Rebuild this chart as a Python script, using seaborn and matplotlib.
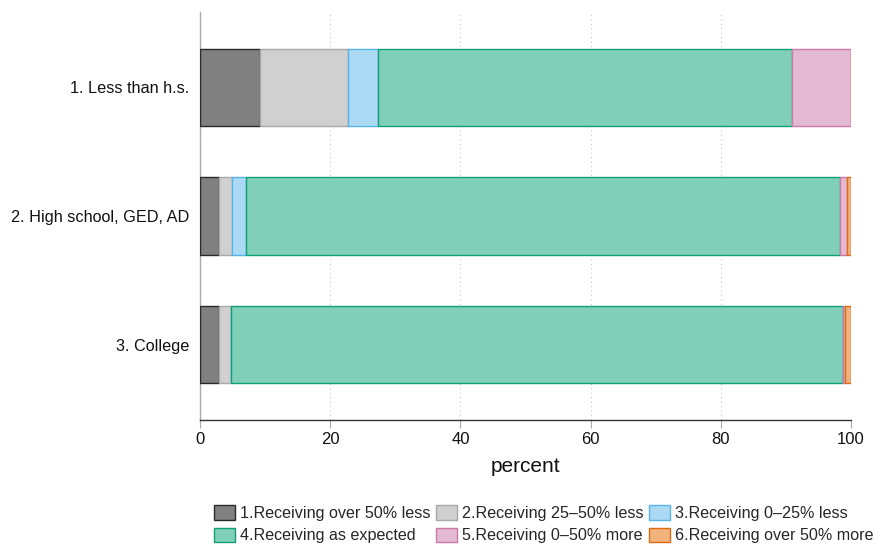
import numpy as np
import pandas as pd
import matplotlib
matplotlib.use("Agg")
import matplotlib.pyplot as plt
import seaborn as sns


# Data
groups = ["1. Less than h.s.", "2. High school, GED, AD", "3. College"]
categories = ["1.Receiving over 50% less", "2.Receiving 25\u201350% less",
              "3.Receiving 0\u201325% less", "4.Receiving as expected",
              "5.Receiving 0\u201350% more", "6.Receiving over 50% more"]
over50_less = [9.2, 2.9, 2.9]
less25_50 = [13.5, 2.0, 1.8]
less0_25 = [4.6, 2.2, 0.1]
as_expected = [63.6, 91.2, 94.0]
more0_50 = [9.1, 1.1, 0.3]
over50_more = [0.0, 0.6, 0.9]

fills = ["#808080", "#d0d0d0", "#acd9f3", "#80cfb9", "#e4b9d3", "#f1b27c"]
edges = ["#2a2a2a", "#a8a8a8", "#56b4e9", "#10a078", "#cc79a7", "#e06a10"]

df = pd.DataFrame(
    np.column_stack([over50_less, less25_50, less0_25, as_expected,
                     more0_50, over50_more]),
    index=groups, columns=categories)

# Plot
sns.set_theme(style="white")
plt.rcParams['font.family'] = ['Liberation Sans', 'DejaVu Sans']

fig = plt.figure(figsize=(8.86, 5.46), dpi=100)
ax = fig.add_axes([200 / 886, 1 - 420 / 546, 651 / 886, 408 / 546])

ypos = np.arange(len(groups))
left = np.zeros(len(groups))
for col, fc, ec in zip(categories, fills, edges):
    vals = df[col].values
    ax.barh(ypos, vals, left=left, height=0.6, color=fc, edgecolor=ec,
            linewidth=1.0, label=col, zorder=3)
    left += vals

ax.set_xlim(0, 100)
ax.set_ylim(2.585, -0.585)
ax.set_xticks([0, 20, 40, 60, 80, 100])
ax.set_yticks(ypos)
ax.set_yticklabels(groups)
ax.xaxis.grid(True, linestyle=(0, (1, 3)), color="#c8c8c8", linewidth=0.8, zorder=0)
ax.yaxis.grid(False)

for s in ["top", "right"]:
    ax.spines[s].set_visible(False)
ax.spines["bottom"].set_color("#333333")
ax.spines["bottom"].set_linewidth(1.0)
ax.spines["left"].set_color("#aaaaaa")
ax.spines["left"].set_linewidth(1.0)

ax.tick_params(axis="x", bottom=True, length=6, width=0.8, color="#aaaaaa",
               labelsize=12, pad=3, labelcolor="#111111")
ax.tick_params(axis="y", left=False, labelsize=11.7, pad=2, labelcolor="#111111")
ax.set_xlabel("percent", fontsize=15, labelpad=7, color="#111111")
ax.set_ylabel("")

# legend filled row by row
h, l = ax.get_legend_handles_labels()
order = [0, 3, 1, 4, 2, 5]
ax.legend([h[i] for i in order], [l[i] for i in order],
          loc="upper left", bbox_to_anchor=(208 / 886, 1 - 499 / 546),
          bbox_transform=fig.transFigure, ncol=3, frameon=False,
          fontsize=11.6, handlelength=1.25, handleheight=1.0,
          columnspacing=0.35, handletextpad=0.35, labelspacing=0.4,
          borderaxespad=0)

fig.savefig("out.png", dpi=100)
